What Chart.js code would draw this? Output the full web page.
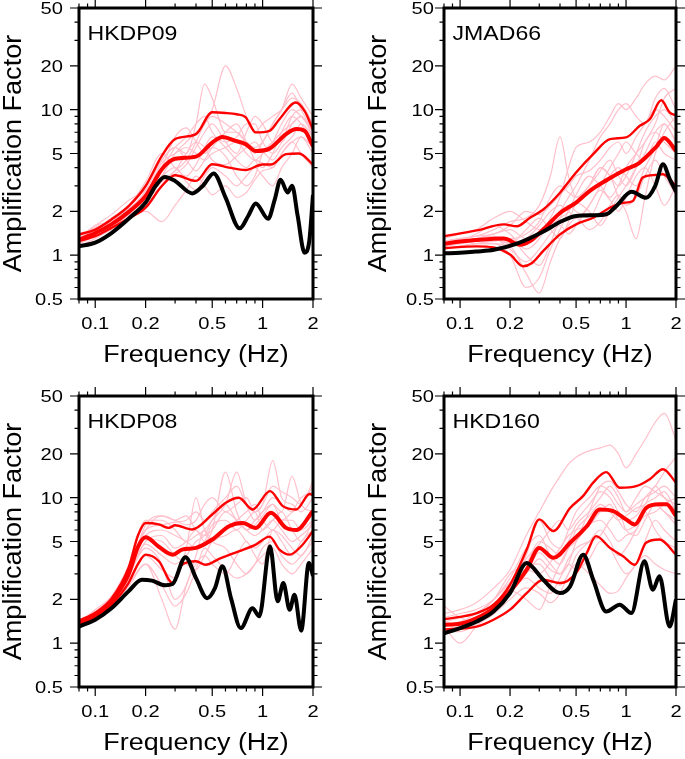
<!DOCTYPE html>
<html>
<head>
<meta charset="utf-8">
<script src="https://cdn.jsdelivr.net/npm/chart.js@4.4.1/dist/chart.umd.min.js"></script>
<style>
  html, body { margin: 0; padding: 0; background: #fff; }
  #page { position: relative; width: 685px; height: 759px; overflow: hidden; background: #fff; }
  canvas { position: absolute; }
</style>
</head>
<body>
<div id="page">
  <canvas id="c1" width="340" height="380" style="left:0px;top:0px"></canvas>
  <canvas id="c2" width="345" height="380" style="left:340px;top:0px"></canvas>
  <canvas id="c3" width="340" height="379" style="left:0px;top:380px"></canvas>
  <canvas id="c4" width="345" height="379" style="left:340px;top:380px"></canvas>
</div>
<script>
// common frequency grid for the individual (pink) curves
const FREQ = [0.08, 0.1, 0.125, 0.16, 0.2, 0.25, 0.3, 0.35, 0.4, 0.45, 0.5, 0.6, 0.7, 0.8, 0.9, 1.0, 1.15, 1.3, 1.5, 1.7, 2.0];

const X_MAJOR = [0.1, 0.2, 0.5, 1, 2];
const X_MINOR = [0.08, 0.09, 0.3, 0.4, 0.6, 0.7, 0.8, 0.9];
const Y_MAJOR = [0.5, 1, 2, 5, 10, 20, 50];
const Y_MINOR = [0.6, 0.7, 0.8, 0.9, 3, 4, 6, 7, 8, 9, 30, 40];

// ---- HKDP09 ----
const HKDP09_PINK = [
  [1.3, 1.6, 1.7, 2.0, 2.8, 4.5, 5.5, 5, 8, 15, 12, 7, 7, 6, 5, 6, 8, 10, 13, 10, 7],
  [1.2, 1.4, 1.6, 2.0, 2.6, 3.5, 5, 6, 7, 8, 10, 20, 14, 9, 7, 8, 9, 10, 12, 11, 8],
  [1.25, 1.5, 1.7, 2.1, 2.5, 3.2, 3.8, 4.5, 6, 8, 9, 8, 7, 6, 5.5, 6, 8, 10, 15, 12, 9],
  [1.15, 1.3, 1.5, 1.8, 2.0, 1.7, 2.2, 2.8, 3.5, 3, 2.6, 3.0, 2.5, 2.7, 3.3, 3.8, 4, 5, 6, 5, 4],
  [1.3, 1.5, 1.8, 2.2, 3, 4.5, 5.5, 4.5, 3.8, 4.5, 5.5, 7, 8, 6, 4.5, 4, 5, 7, 9, 8, 6],
  [1.2, 1.4, 1.7, 2.1, 2.7, 4, 6.5, 7.5, 6, 5, 5.5, 4.8, 3.5, 3, 3.5, 5, 6, 7, 8, 9, 6.5],
  [1.35, 1.55, 1.75, 2.2, 3.2, 5, 4, 3.5, 4.2, 5.5, 6.5, 5.5, 4.5, 4, 4.5, 4.3, 4, 5, 6, 6.5, 5],
  [1.25, 1.45, 1.6, 2.0, 2.4, 3, 3.6, 4.2, 5.5, 7, 8, 6, 5, 7, 9, 8, 6, 6, 8, 9, 7],
  [1.3, 1.6, 1.9, 2.4, 2.8, 3.5, 4, 3.2, 2.8, 3.5, 4, 3.5, 3, 3.5, 4, 3.5, 3, 4, 5, 6.5, 5.5],
  [1.2, 1.35, 1.55, 1.9, 2.3, 3.8, 5.5, 6.5, 8, 9, 7, 6, 6.5, 8, 8, 6, 5, 6, 9, 10, 8],
  [1.3, 1.5, 1.65, 1.9, 2.6, 4.3, 5, 5.5, 5, 4.5, 5, 5.5, 6, 5, 4.5, 5, 6, 8, 10, 9, 7],
  [1.25, 1.4, 1.6, 2.0, 2.5, 3.2, 3.8, 5, 6, 5.5, 4.5, 4.2, 4.8, 5.5, 6, 5.2, 4.5, 5.5, 6.5, 8, 6.5]
];
const HKDP09_MEAN_F = [0.08, 0.1, 0.125, 0.16, 0.2, 0.25, 0.3, 0.4, 0.5, 0.575, 0.69, 0.79, 0.91, 1.1, 1.38, 1.59, 1.78, 2.0];
const HKDP09_MEAN = [1.28, 1.42, 1.63, 2.0, 2.55, 3.9, 4.6, 4.76, 5.95, 6.5, 6.1, 5.8, 5.2, 5.4, 6.8, 7.36, 7.16, 5.6];
const HKDP09_UP_F = [0.08, 0.1, 0.125, 0.16, 0.2, 0.25, 0.3, 0.4, 0.5, 0.6, 0.7, 0.79, 0.91, 1.1, 1.26, 1.58, 1.78, 2.0];
const HKDP09_UP = [1.39, 1.5, 1.76, 2.2, 2.99, 4.82, 6.28, 6.8, 9.6, 9.5, 9.3, 8.9, 6.98, 7.16, 8.6, 11.2, 9.8, 7.3];
const HKDP09_LO_F = [0.08, 0.1, 0.125, 0.16, 0.2, 0.25, 0.3, 0.4, 0.5, 0.63, 0.79, 1.0, 1.12, 1.38, 1.65, 2.0];
const HKDP09_LO = [1.25, 1.35, 1.54, 1.8, 2.12, 2.99, 3.54, 3.24, 4.22, 4.0, 3.85, 4.2, 4.2, 4.95, 5.0, 4.2];
const HKDP09_OBS_F = [0.08, 0.1, 0.125, 0.16, 0.2, 0.23, 0.26, 0.3, 0.38, 0.44, 0.51, 0.6, 0.73, 0.82, 0.91, 1.08, 1.18, 1.28, 1.41, 1.5, 1.62, 1.78, 1.9, 2.0];
const HKDP09_OBS = [1.15, 1.22, 1.42, 1.8, 2.3, 3.0, 3.45, 3.24, 2.66, 3.0, 3.65, 2.5, 1.53, 1.86, 2.27, 1.78, 2.4, 3.3, 2.7, 3.0, 1.86, 1.04, 1.25, 2.6];

// ---- JMAD66 ----
const JMAD66_PINK = [
  [1.25, 1.3, 1.35, 1.5, 1.7, 1.8, 2.2, 3.5, 6.5, 3.5, 2.5, 3.0, 4, 3.5, 3, 3.5, 5, 7, 9, 10, 8],
  [1.1, 1.15, 1.2, 1.2, 1.0, 0.6, 0.7, 1.1, 1.5, 2, 2.3, 2.0, 1.6, 2, 2.5, 3, 4, 5, 7, 8, 6],
  [1.2, 1.25, 1.4, 1.6, 1.4, 1.1, 1.3, 1.8, 2.5, 4, 5.5, 6, 7, 9, 11, 10, 12, 15, 17, 16, 20],
  [1.15, 1.2, 1.3, 1.3, 1.2, 1.5, 1.8, 1.5, 1.3, 1.7, 2.3, 3, 4, 3.5, 2.5, 2, 1.3, 2.5, 5, 7, 9],
  [1.3, 1.4, 1.5, 1.8, 2.0, 1.7, 1.5, 1.7, 2.0, 2.5, 3.0, 4.5, 6.5, 8, 10, 11, 9, 8, 12, 14, 10],
  [1.1, 1.15, 1.2, 1.25, 1.3, 1.0, 0.85, 1.2, 1.8, 2.2, 2.0, 1.8, 2.5, 3.5, 4, 3.5, 3, 4, 5.5, 8, 6],
  [1.2, 1.25, 1.3, 1.4, 1.5, 1.3, 1.4, 1.6, 1.8, 2.0, 2.6, 3.5, 3, 2.5, 3, 4, 5, 6, 8, 12, 14],
  [1.15, 1.2, 1.25, 1.3, 1.1, 0.9, 1.1, 1.4, 1.6, 1.4, 1.6, 2.2, 2.8, 2.4, 2.0, 2.5, 3.5, 4, 3, 2.2, 3],
  [1.25, 1.3, 1.35, 1.4, 1.6, 2.0, 1.9, 2.2, 2.6, 3, 3.5, 3.8, 4.5, 5.5, 6, 5, 6.5, 8, 10, 9, 7],
  [1.2, 1.2, 1.3, 1.35, 1.2, 1.3, 1.6, 2.0, 2.2, 2.0, 1.8, 2.2, 3, 4, 5, 6, 5, 4.5, 6, 5, 4.5],
  [1.1, 1.15, 1.2, 1.2, 1.15, 0.75, 0.55, 0.9, 1.3, 1.6, 1.8, 1.5, 1.7, 2.2, 2.6, 2.2, 2.5, 3.5, 4.5, 3.5, 2.6],
  [1.2, 1.25, 1.3, 1.35, 1.3, 1.4, 1.7, 2.5, 3, 2.7, 2.5, 3, 3.8, 4.5, 3.5, 3, 4, 6, 7, 6, 5]
];
const JMAD66_MEAN_F = [0.08, 0.1, 0.125, 0.183, 0.23, 0.264, 0.317, 0.4, 0.5, 0.6, 0.77, 1.0, 1.2, 1.53, 1.7, 2.0];
const JMAD66_MEAN = [1.2, 1.24, 1.27, 1.3, 1.18, 1.25, 1.5, 1.95, 2.3, 2.75, 3.3, 3.9, 4.3, 5.6, 6.4, 5.2];
const JMAD66_UP_F = [0.08, 0.126, 0.183, 0.22, 0.264, 0.317, 0.4, 0.5, 0.634, 0.8, 1.0, 1.21, 1.39, 1.63, 1.83, 2.0];
const JMAD66_UP = [1.35, 1.48, 1.63, 1.58, 1.81, 2.06, 2.69, 3.7, 4.95, 6.27, 6.45, 7.75, 8.6, 11.6, 9.6, 9.1];
const JMAD66_LO_F = [0.08, 0.126, 0.159, 0.2, 0.24, 0.27, 0.317, 0.4, 0.5, 0.634, 0.8, 0.96, 1.1, 1.26, 1.5, 1.67, 2.0];
const JMAD66_LO = [1.12, 1.15, 1.13, 1.01, 0.84, 0.88, 1.07, 1.39, 1.63, 1.81, 2.12, 2.29, 2.36, 3.42, 3.56, 3.6, 2.99];
const JMAD66_OBS_F = [0.08, 0.1, 0.125, 0.16, 0.22, 0.32, 0.4, 0.5, 0.63, 0.76, 0.875, 1.08, 1.32, 1.5, 1.67, 1.83, 2.0];
const JMAD66_OBS = [1.03, 1.04, 1.06, 1.09, 1.2, 1.46, 1.69, 1.86, 1.88, 1.91, 2.18, 2.73, 2.48, 3.0, 4.22, 3.35, 2.73];

// ---- HKDP08 ----
const HKDP08_PINK = [
  [1.35, 1.6, 2.0, 3.2, 6.5, 7.5, 7, 6.5, 7, 9, 10, 8, 9, 10, 8, 9, 18, 10, 9, 8, 10],
  [1.3, 1.55, 1.9, 3.0, 5, 5.5, 4.5, 5, 6, 5, 6, 15, 8, 6, 7, 8, 9, 8, 14, 9, 8],
  [1.4, 1.65, 2.1, 3.5, 7, 7, 6, 5, 5.5, 6, 7, 9, 15, 9, 7, 8, 10, 9, 8, 9, 12],
  [1.3, 1.5, 1.8, 2.5, 3.5, 2.0, 1.25, 2.5, 3.5, 4, 3.5, 3, 4, 5, 4, 3.5, 6, 5, 4, 5, 6],
  [1.35, 1.6, 2.0, 3.0, 4.5, 3.5, 2.0, 2.5, 4, 6, 5, 4.5, 3.5, 3, 3.5, 4.5, 5, 4, 3.5, 4, 5],
  [1.3, 1.5, 1.9, 2.8, 4.0, 3.2, 2.8, 4.5, 10, 6, 5, 6, 7, 8, 9, 7, 6, 7, 7, 6, 7],
  [1.4, 1.7, 2.1, 3.3, 6, 7.5, 7, 7.5, 6, 5.5, 6, 8, 7, 6, 6.5, 7.5, 9, 7, 8, 10, 11],
  [1.35, 1.6, 2.0, 3.0, 5.5, 6, 5.5, 5, 4.5, 5, 6.5, 7, 6, 7, 8, 6, 7, 8, 6, 5, 7],
  [1.3, 1.5, 1.8, 2.6, 3.5, 2.5, 1.8, 2.2, 3.2, 4.5, 4, 3.2, 2.8, 3, 3.5, 4, 4.5, 3.5, 3, 3.5, 4.5],
  [1.35, 1.6, 2.0, 3.3, 6, 6.5, 6.8, 7, 8, 7, 8, 10, 12, 9, 8, 9, 12, 11, 10, 9, 13],
  [1.3, 1.55, 1.95, 3.0, 4.8, 4.0, 3.5, 4, 5, 5.5, 7, 9, 7, 6, 5.5, 6, 7, 6, 5, 5.5, 6.5],
  [1.4, 1.6, 2.0, 3.1, 5.2, 5, 4, 3.5, 3.2, 4, 5, 5.5, 6, 5, 4.5, 5, 6, 5.5, 4.5, 4, 5.5]
];
const HKDP08_MEAN_F = [0.08, 0.1, 0.125, 0.158, 0.18, 0.2, 0.24, 0.29, 0.33, 0.4, 0.5, 0.63, 0.76, 0.91, 1.12, 1.38, 1.59, 2.0];
const HKDP08_MEAN = [1.37, 1.57, 1.94, 2.96, 4.6, 5.35, 4.6, 4.06, 4.4, 4.52, 5.16, 6.37, 6.7, 6.2, 7.87, 6.2, 6.0, 8.1];
const HKDP08_UP_F = [0.08, 0.1, 0.125, 0.158, 0.18, 0.2, 0.24, 0.275, 0.3, 0.38, 0.5, 0.6, 0.72, 0.87, 1.107, 1.32, 1.59, 1.91, 2.0];
const HKDP08_UP = [1.43, 1.62, 2.02, 3.29, 5.5, 6.7, 6.55, 6.2, 6.46, 6.05, 7.66, 9.2, 10.0, 8.3, 11.1, 8.75, 8.3, 10.6, 10.4];
const HKDP08_LO_F = [0.08, 0.1, 0.125, 0.158, 0.18, 0.2, 0.24, 0.29, 0.33, 0.4, 0.456, 0.55, 0.72, 0.91, 1.1, 1.26, 1.45, 1.7, 2.0];
const HKDP08_LO = [1.34, 1.5, 1.84, 2.59, 3.5, 4.06, 3.66, 2.59, 3.46, 3.66, 3.46, 3.8, 4.28, 4.76, 5.4, 4.4, 4.06, 4.64, 5.9];
const HKDP08_OBS_F = [0.08, 0.1, 0.125, 0.158, 0.19, 0.218, 0.262, 0.29, 0.346, 0.4, 0.467, 0.52, 0.575, 0.65, 0.74, 0.87, 0.955, 1.107, 1.23, 1.33, 1.45, 1.55, 1.7, 1.89, 2.0];
const HKDP08_OBS = [1.30, 1.45, 1.74, 2.27, 2.73, 2.69, 2.5, 2.55, 3.9, 2.8, 2.04, 2.4, 3.38, 2.0, 1.27, 1.74, 1.53, 4.64, 1.94, 2.59, 1.70, 2.15, 1.22, 3.56, 2.9];

// ---- HKD160 ----
const HKD160_PINK = [
  [1.6, 1.7, 1.9, 2.4, 3.2, 5.5, 8, 11, 14, 17, 19, 21, 22, 23, 20, 16, 20, 25, 33, 38, 25],
  [1.3, 1.0, 1.3, 1.7, 2.6, 4, 7, 5, 4.5, 6, 8, 10, 12, 11, 9, 8, 10, 12, 11, 10, 9],
  [1.8, 1.5, 1.4, 1.7, 2.2, 3, 4.2, 3.5, 3, 3.5, 5, 8, 12, 13, 11, 9, 8, 10, 12, 15, 19],
  [1.2, 1.25, 1.4, 1.6, 2.0, 2.4, 2.2, 1.9, 2.2, 3, 3.5, 3, 2.5, 2.2, 2.3, 2.8, 3.5, 4, 3.5, 3.2, 3.0],
  [1.3, 1.4, 1.5, 1.8, 2.3, 2.0, 1.7, 2.5, 3.5, 4.5, 5, 6.5, 7, 6, 5, 5.5, 6, 8, 9, 8, 7],
  [1.4, 1.5, 1.6, 2.0, 3.0, 3.5, 5, 4.5, 4, 5, 6.5, 8, 10, 12, 10, 8, 9, 10, 11, 12, 10],
  [1.25, 1.3, 1.5, 1.8, 2.5, 3.5, 3.5, 2.8, 2.5, 3, 4, 5, 6, 5, 4, 4.5, 6, 8, 6, 5, 4.5],
  [1.35, 1.4, 1.6, 2.0, 2.8, 4.5, 5.5, 4, 3.5, 4.5, 6, 7.5, 9, 8, 7, 7.5, 8.5, 9, 12, 10, 8],
  [1.2, 1.2, 1.35, 1.6, 2.2, 2.8, 2.4, 2.2, 2.8, 3.5, 3.2, 3.8, 5, 4.5, 3.5, 3, 3.5, 5, 7, 6, 5],
  [1.3, 1.35, 1.5, 1.7, 2.4, 3.8, 4.8, 6, 7, 6, 7, 9, 11, 10, 8, 7, 7.5, 9, 10, 11, 8],
  [1.5, 1.6, 1.7, 2.0, 2.6, 3, 3.8, 3.2, 3.0, 3.8, 4.5, 5, 5.5, 7, 8, 6, 5.5, 7, 9, 8, 6.5],
  [1.25, 1.3, 1.45, 1.8, 2.6, 3.2, 3.0, 3.6, 4.5, 5.5, 6, 6.5, 8, 9, 7, 6, 6.5, 7.5, 8, 9, 10]
];
const HKD160_MEAN_F = [0.08, 0.1, 0.126, 0.159, 0.2, 0.252, 0.3, 0.365, 0.46, 0.58, 0.695, 0.835, 1.0, 1.13, 1.32, 1.59, 1.75, 2.0];
const HKD160_MEAN = [1.34, 1.36, 1.49, 1.74, 2.27, 3.2, 4.52, 3.86, 4.9, 6.37, 8.3, 8.1, 7.1, 6.55, 8.5, 9.0, 9.0, 7.5];
const HKD160_UP_F = [0.08, 0.126, 0.159, 0.2, 0.252, 0.3, 0.365, 0.46, 0.552, 0.634, 0.76, 0.916, 1.15, 1.39, 1.67, 2.0];
const HKD160_UP = [1.46, 1.61, 1.84, 2.52, 4.4, 7.1, 5.9, 8.5, 10.3, 12.7, 15.0, 11.7, 12.0, 13.4, 15.7, 12.7];
const HKD160_LO_F = [0.08, 0.126, 0.159, 0.2, 0.252, 0.317, 0.4, 0.5, 0.58, 0.66, 0.8, 0.96, 1.13, 1.32, 1.59, 2.0];
const HKD160_LO = [1.24, 1.30, 1.45, 1.70, 2.21, 2.73, 2.59, 3.04, 4.17, 5.44, 4.52, 3.96, 3.46, 4.9, 5.16, 4.06];
const HKD160_OBS_F = [0.08, 0.1, 0.126, 0.159, 0.2, 0.252, 0.27, 0.317, 0.4, 0.46, 0.552, 0.634, 0.76, 0.916, 1.077, 1.29, 1.45, 1.59, 1.83, 2.0];
const HKD160_OBS = [1.17, 1.27, 1.41, 1.65, 2.21, 3.56, 3.38, 2.73, 2.21, 2.46, 4.06, 2.73, 1.65, 1.84, 1.61, 3.66, 2.33, 2.88, 1.30, 2.0];

const FONT = '"Liberation Sans", Arial, Helvetica, sans-serif';

function pts(f, a) {
  return f.map((x, i) => ({ x, y: a[i] }));
}

function curve(data, color, width, order) {
  return {
    data,
    borderColor: color,
    borderWidth: width,
    pointRadius: 0,
    fill: false,
    cubicInterpolationMode: "monotone",
    order,
    clip: 0,
  };
}

// text with a horizontal stretch, the original lettering is wider than Helvetica
function drawText(ctx, txt, x, y, size, sx, align, rot) {
  ctx.save();
  ctx.translate(x, y);
  if (rot) ctx.rotate(rot);
  ctx.scale(sx, 1);
  ctx.font = `${size}px ${FONT}`;
  ctx.textAlign = align;
  ctx.textBaseline = "alphabetic";
  ctx.fillStyle = "#000";
  ctx.fillText(txt, 0, 0);
  ctx.restore();
}

const framePlugin = {
  id: "gmtFrame",
  afterDraw(chart, args, opts) {
    const { ctx, chartArea: a } = chart;
    const xs = chart.scales.x, ys = chart.scales.y;
    ctx.save();
    ctx.strokeStyle = "#000";
    ctx.lineWidth = 1.2;
    ctx.beginPath();
    const tickY = (v, len) => {
      const y = ys.getPixelForValue(v);
      ctx.moveTo(a.left, y); ctx.lineTo(a.left - len, y);
      ctx.moveTo(a.right, y); ctx.lineTo(a.right + len, y);
    };
    const tickX = (v, len) => {
      const x = xs.getPixelForValue(v);
      ctx.moveTo(x, a.top); ctx.lineTo(x, a.top - len);
      ctx.moveTo(x, a.bottom); ctx.lineTo(x, a.bottom + len);
    };
    Y_MAJOR.forEach((v) => tickY(v, 9));
    Y_MINOR.forEach((v) => tickY(v, 4.5));
    X_MAJOR.forEach((v) => tickX(v, 9));
    X_MINOR.forEach((v) => tickX(v, 4.5));
    ctx.stroke();

    ctx.lineWidth = 3;
    ctx.strokeRect(a.left, a.top, a.right - a.left, a.bottom - a.top);
    ctx.restore();

    Y_MAJOR.forEach((v) => {
      drawText(ctx, String(v), a.left - opts.tickGap, ys.getPixelForValue(v) + 6, 16.5, 1.22, "right");
    });
    X_MAJOR.forEach((v) => {
      drawText(ctx, String(v), xs.getPixelForValue(v), a.bottom + 30, 16.5, 1.22, "center");
    });
    drawText(ctx, "Frequency (Hz)", (a.left + a.right) / 2, a.bottom + 63, 23, 1.17, "center");
    drawText(ctx, "Amplification Factor", a.left - 58.5, (a.top + a.bottom) / 2, 25.5, 1.06, "center", -Math.PI / 2);
    drawText(ctx, opts.name, a.left + 8.5, a.top + 32, 21, 1.1, "left");
  },
};

function buildPanel(id, name, pad, tickGap, pink, mean, up, lo, obs) {
  const datasets = [
    curve(obs, "#000000", 4, 1),
    curve(mean, "#ff0000", 4, 2),
    curve(up, "#ff0000", 2.4, 3),
    curve(lo, "#ff0000", 2.4, 3),
  ];
  pink.forEach((row) => datasets.push(curve(pts(FREQ, row), "rgb(255,192,203)", 1.2, 4)));

  return new Chart(document.getElementById(id).getContext("2d"), {
    type: "line",
    data: { datasets },
    options: {
      responsive: false,
      animation: false,
      events: [],
      layout: { padding: pad },
      plugins: {
        legend: { display: false },
        tooltip: { enabled: false },
        gmtFrame: { name, tickGap },
      },
      scales: {
        x: { type: "logarithmic", min: 0.08, max: 2, display: false },
        y: { type: "logarithmic", min: 0.5, max: 50, display: false },
      },
    },
    plugins: [framePlugin],
  });
}

buildPanel("c1", "HKDP09", { left: 79, top: 8, right: 27, bottom: 81 }, 16, HKDP09_PINK,
  pts(HKDP09_MEAN_F, HKDP09_MEAN), pts(HKDP09_UP_F, HKDP09_UP), pts(HKDP09_LO_F, HKDP09_LO), pts(HKDP09_OBS_F, HKDP09_OBS));
buildPanel("c2", "JMAD66", { left: 104, top: 8, right: 9, bottom: 81 }, 10, JMAD66_PINK,
  pts(JMAD66_MEAN_F, JMAD66_MEAN), pts(JMAD66_UP_F, JMAD66_UP), pts(JMAD66_LO_F, JMAD66_LO), pts(JMAD66_OBS_F, JMAD66_OBS));
buildPanel("c3", "HKDP08", { left: 79, top: 16, right: 27, bottom: 72 }, 16, HKDP08_PINK,
  pts(HKDP08_MEAN_F, HKDP08_MEAN), pts(HKDP08_UP_F, HKDP08_UP), pts(HKDP08_LO_F, HKDP08_LO), pts(HKDP08_OBS_F, HKDP08_OBS));
buildPanel("c4", "HKD160", { left: 104, top: 16, right: 9, bottom: 72 }, 10, HKD160_PINK,
  pts(HKD160_MEAN_F, HKD160_MEAN), pts(HKD160_UP_F, HKD160_UP), pts(HKD160_LO_F, HKD160_LO), pts(HKD160_OBS_F, HKD160_OBS));
</script>
</body>
</html>
